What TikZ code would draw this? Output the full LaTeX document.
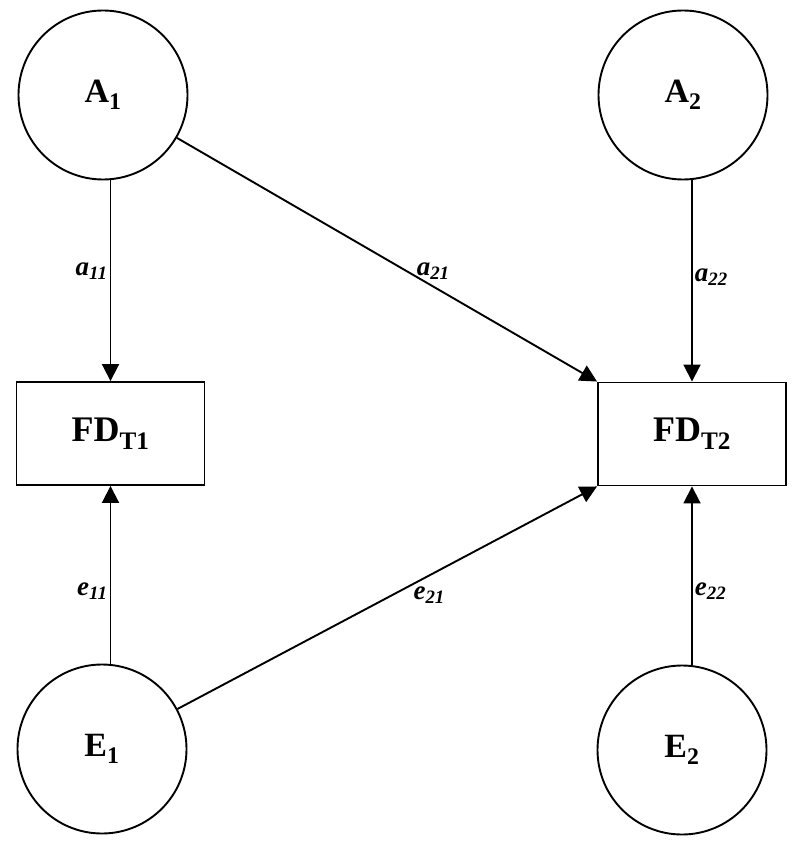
\documentclass[tikz,border=0pt]{standalone}
\usepackage{fontspec}
\setmainfont{Liberation Serif}
\usepackage{tikz}
\usetikzlibrary{arrows.meta}

\newcommand{\coef}[2]{\textbf{\textit{#1}}\textsubscript{\textbf{\textit{#2}}}}
\newcommand{\var}[2]{\textbf{#1}\textsubscript{\textbf{#2}}}

\begin{document}
\begin{tikzpicture}[x=1pt,y=-1pt,
    latent/.style={draw, circle, line width=1.9pt, minimum size=169pt, inner sep=0pt, font=\fontsize{34}{40}\selectfont},
    observed/.style={draw, rectangle, line width=1.9pt, minimum width=188pt, minimum height=103pt, inner sep=0pt, font=\fontsize{36}{42}\selectfont},
    path/.style={line width=1.9pt, -{Triangle[length=17pt,width=17pt]}},
    coeflabel/.style={font=\fontsize{27}{32}\selectfont, inner sep=2pt}]
    \useasboundingbox (0,0) rectangle (798,845);

    % factors
    \node[latent] (A1) at (103,95) {\var{A}{1}};
    \node[latent] (A2) at (683,95) {\var{A}{2}};
    \node[latent] (E1) at (102,749) {\var{E}{1}};
    \node[latent] (E2) at (682,750) {\var{E}{2}};

    % measures
    \node[observed] (FDT1) at (110.5,433.5) {\var{FD}{T1}};
    \node[observed] (FDT2) at (692,434) {\var{FD}{T2}};

    % paths from A
    \draw[path] (FDT1.north |- A1.south) -- (FDT1.north) node[coeflabel, pos=0.45, left] {\coef{a}{11}};
    \draw[path] (A1) -- (FDT2.north west) node[coeflabel, pos=0.61, above=4pt] {\coef{a}{21}};
    \draw[path] (FDT2.north |- A2.south) -- (FDT2.north) node[coeflabel, pos=0.48, right] {\coef{a}{22}};

    % paths from E
    \draw[path] (FDT1.south |- E1.north) -- (FDT1.south) node[coeflabel, pos=0.41, left] {\coef{e}{11}};
    \draw[path] (E1) -- (FDT2.south west) node[coeflabel, pos=0.6, below=8pt] {\coef{e}{21}};
    \draw[path] (FDT2.south |- E2.north) -- (FDT2.south) node[coeflabel, pos=0.41, right] {\coef{e}{22}};

\end{tikzpicture}
\end{document}
